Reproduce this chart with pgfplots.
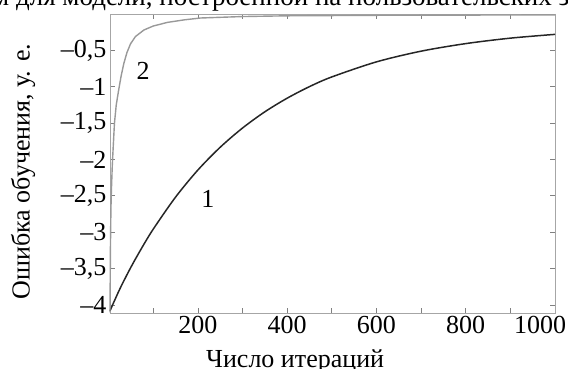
\documentclass[border=0pt]{standalone}
\usepackage{fontspec}
\setmainfont{Liberation Serif}
\usepackage{pgfplots}
\pgfplotsset{compat=1.18}
\begin{document}
\begin{tikzpicture}[font=\fontsize{26}{30}\selectfont]
\begin{scope}
\clip (0,0) rectangle (568pt,369pt);
\node[anchor=base west, inner sep=0pt, font=\fontsize{27}{31}\selectfont] at (-8pt,363pt) {м для модели, построенной на пользовательских з};
\end{scope}
\begin{axis}[
  at={(110pt,56pt)}, anchor=south west,
  scale only axis, width=445pt, height=299pt,
  xmin=3, xmax=1000, ymin=-4.11, ymax=0,
  axis line style={draw=black!35, line width=0.9pt},
  tick style={draw=black!50, line width=0.8pt},
  major tick length=5pt,
  xtick={100,200,...,1000},
  xticklabels={,200,,400,,600,,800,,\makebox[0pt][r]{1000\kern-11pt}},
  ytick={-4,-3.5,-3,-2.5,-2,-1.5,-1,-0.5},
  yticklabels={{–4},{–3,5},{–3},{–2,5},{–2},{–1,5},{–1},{–0,5}},
  tick label style={font=\fontsize{26}{30}\selectfont},
  label style={font=\fontsize{26}{30}\selectfont},
  xlabel={Число итераций},
  xlabel style={at={(axis description cs:0.416,0)}, anchor=base, yshift=-55pt, inner sep=0pt},
  ylabel={Ошибка обучения, у. е.},
  ylabel style={at={(axis description cs:-0.195,0.473)}, anchor=center, inner sep=0pt},
  clip=false,
]
\addplot[black!85, line width=1.5pt, smooth] coordinates {
(3,-4.08) (25,-3.78) (50,-3.479) (75,-3.207) (100,-2.956) (150,-2.516)
(200,-2.144) (250,-1.831) (300,-1.567) (350,-1.344) (400,-1.157)
(450,-0.998) (500,-0.865) (600,-0.658) (700,-0.511) (800,-0.407)
(900,-0.332) (1000,-0.280)
};
\addplot[black!40, line width=1.4pt] coordinates {
(3,-4.1) (4,-3.2) (5,-2.7) (6,-2.45) (8,-2.1) (10,-1.85) (13,-1.5) (17,-1.25)
(22,-1.06) (28,-0.85) (34,-0.68) (41,-0.53) (49,-0.41) (60,-0.31) (79,-0.22)
(100,-0.165) (132,-0.115) (170,-0.08) (206,-0.055) (300,-0.035) (400,-0.025)
(600,-0.018) (1000,-0.012)
};
\node at (axis cs:77,-0.78) {2};
\node at (axis cs:222,-2.54) {1};
\end{axis}
\pgfresetboundingbox
\useasboundingbox (0,0) rectangle (568pt,369pt);
\end{tikzpicture}
\end{document}
